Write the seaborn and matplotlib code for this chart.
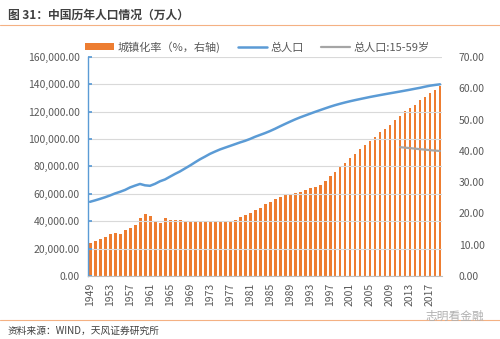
import matplotlib
matplotlib.use("Agg")
import matplotlib.pyplot as plt
import matplotlib.ticker as mticker
from matplotlib.patches import Patch
from matplotlib.lines import Line2D
import seaborn as sns
import pandas as pd

years = list(range(1949, 2020))
urban_rate = [10.64, 11.18, 11.78, 12.46, 13.31, 13.69, 13.48, 14.62, 15.39, 16.25,
              18.41, 19.75, 19.29, 17.33, 16.84, 18.37, 17.98, 17.86, 17.74, 17.62,
              17.50, 17.38, 17.26, 17.13, 17.20, 17.16, 17.34, 17.44, 17.55, 17.92,
              18.96, 19.39, 20.16, 21.13, 21.62, 23.01, 23.71, 24.52, 25.32, 25.81,
              26.21, 26.41, 26.94, 27.46, 27.99, 28.51, 29.04, 30.48, 31.91, 33.35,
              34.78, 36.22, 37.66, 39.09, 40.53, 41.76, 42.99, 44.34, 45.89, 46.99,
              48.34, 49.95, 51.27, 52.57, 53.73, 54.77, 56.10, 57.35, 58.52, 59.58,
              60.60]
total_pop = [54167, 55196, 56300, 57482, 58796, 60266, 61465, 62828, 64653, 65994,
             67207, 66207, 65859, 67296, 69172, 70499, 72538, 74542, 76368, 78534,
             80671, 82992, 85229, 87177, 89211, 90859, 92420, 93717, 94974, 96259,
             97542, 98705, 100072, 101654, 103008, 104357, 105851, 107507, 109300, 111026,
             112704, 114333, 115823, 117171, 118517, 119850, 121121, 122389, 123626, 124761,
             125786, 126743, 127627, 128453, 129227, 129988, 130756, 131448, 132129, 132802,
             133450, 134091, 134735, 135404, 136072, 136782, 137462, 138271, 139008, 139538,
             140005]
work_years = list(range(2011, 2020))
work_pop = [94072, 93727, 93400, 93000, 92600, 92300, 91900, 91600, 91300]
xtick_years = list(range(1949, 2018, 4))
left_ticks = list(range(0, 160001, 20000))
right_ticks = list(range(0, 71, 10))

df = pd.DataFrame({"year": years, "urban": urban_rate, "pop": total_pop})
dfw = pd.DataFrame({"year": work_years, "pop": work_pop})

sns.set_theme(style="white")
plt.rcParams["font.family"] = ["Noto Sans CJK SC", "DejaVu Sans"]

ORANGE = "#ED7D31"
BLUE = "#5B9BD5"
GRAY = "#A5A5A5"
TXT = "#595959"

fig = plt.figure(figsize=(5.0, 3.39), dpi=100)
ax = fig.add_axes([0.176, 0.186, 0.708, 0.646])
ax2 = ax.twinx()

sns.barplot(data=df, x="year", y="urban", ax=ax2, color=ORANGE, native_scale=True,
            width=0.6, saturation=1, edgecolor="none", errorbar=None)
sns.lineplot(data=df, x="year", y="pop", ax=ax, color=BLUE, linewidth=1.8)
sns.lineplot(data=dfw, x="year", y="pop", ax=ax, color=GRAY, linewidth=1.6)

ax.set_zorder(ax2.get_zorder() + 1)
ax.patch.set_visible(False)

ax.set_xlim(1948.6, 2019.4)
ax.set_ylim(0, 160000)
ax2.set_ylim(0, 70)
ax.set_yticks(left_ticks)
ax2.set_yticks(right_ticks)
ax.yaxis.set_major_formatter(mticker.FuncFormatter(lambda v, p: f"{v:,.2f}"))
ax2.yaxis.set_major_formatter(mticker.FuncFormatter(lambda v, p: f"{v:.2f}"))
ax.set_xticks(xtick_years)
ax.set_xticklabels([str(y) for y in xtick_years], rotation=90)
ax.set_xlabel("")
ax.set_ylabel("")
ax2.set_ylabel("")
ax2.set_xlabel("")

for a in (ax, ax2):
    a.tick_params(axis="both", labelsize=7.5, colors=TXT, length=0, pad=4)
ax.tick_params(axis="y", length=3, color=BLUE, direction="in", pad=6)
ax2.tick_params(axis="y", length=0, pad=12)
ax.tick_params(axis="x", length=3, color="#BFBFBF", direction="out", pad=2)

ax.grid(axis="y", color="#D9D9D9", linewidth=0.8)
ax.set_axisbelow(True)
for s in ("top", "right"):
    ax.spines[s].set_visible(False)
ax.spines["left"].set_color(BLUE)
ax.spines["left"].set_linewidth(1.0)
ax.spines["bottom"].set_color("#BFBFBF")
ax.spines["bottom"].set_linewidth(0.8)
for s in ("top", "left", "bottom", "right"):
    ax2.spines[s].set_visible(False)

handles = [Patch(facecolor=ORANGE, edgecolor="none"),
           Line2D([0], [0], color=BLUE, lw=1.8),
           Line2D([0], [0], color=GRAY, lw=1.6)]
labels = ["城镇化率（%，右轴)", "总人口", "总人口:15-59岁"]
fig.legend(handles, labels, loc="center", bbox_to_anchor=(0.515, 0.862), ncol=3,
           frameon=False, fontsize=8, labelcolor=TXT, handlelength=2.6,
           handleheight=0.7, columnspacing=1.6, handletextpad=0.3)

fig.text(0.016, 0.955, "图 31：中国历年人口情况（万人）", fontsize=8.5, fontweight="bold",
         color="#404040", va="center")
fig.add_artist(Line2D([0.0, 1.0], [0.925, 0.925], color="#F4B183", lw=0.8,
                      transform=fig.transFigure))
fig.add_artist(Line2D([0.0, 1.0], [0.056, 0.056], color="#F4B183", lw=0.8,
                      transform=fig.transFigure))
fig.text(0.016, 0.025, "资料来源：WIND，天风证券研究所", fontsize=7, color="#404040",
         va="center")
fig.text(0.91, 0.068, "志明看金融", fontsize=8.5, color="#B0B0B0", va="center",
         ha="center")

fig.savefig("out.png", dpi=100)
